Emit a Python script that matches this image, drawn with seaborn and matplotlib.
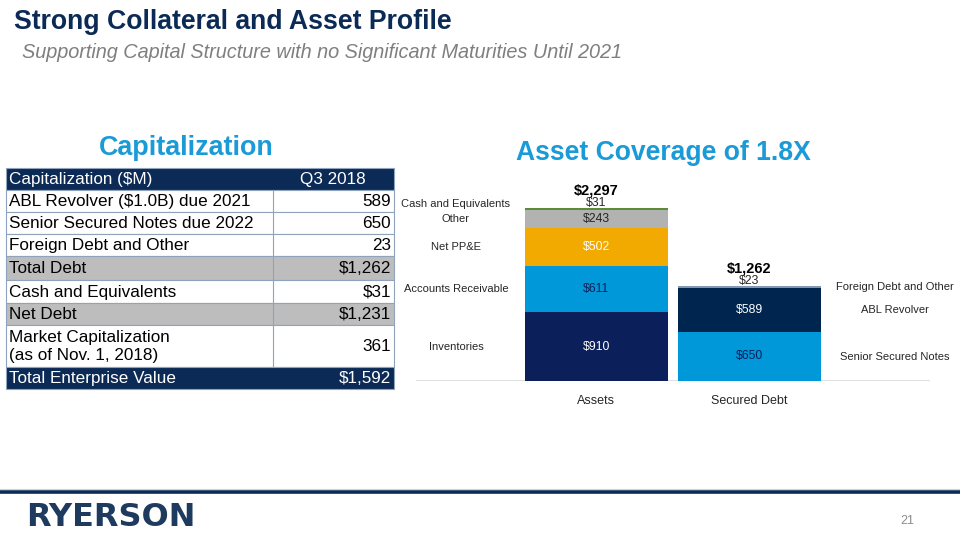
import matplotlib
matplotlib.use("Agg")
import matplotlib.pyplot as plt
from matplotlib.patches import Rectangle
from matplotlib import font_manager
import seaborn as sns

# ---------------- data ----------------
categories = ["Assets", "Secured Debt"]
asset_labels = ["Inventories", "Accounts Receivable", "Net PP&E", "Other", "Cash and Equivalents"]
asset_values = [910, 611, 502, 243, 31]
asset_colors = ["#0B1F5B", "#0098D8", "#F2A900", "#B2B2B2", "#5B8C3A"]
asset_text_colors = ["white", "#0B1F5B", "white", "#262626", "#262626"]

debt_labels = ["Senior Secured Notes", "ABL Revolver", "Foreign Debt and Other"]
debt_values = [650, 589, 23]
debt_colors = ["#0098D8", "#00264F", "#8497B0"]
debt_text_colors = ["#0B1F5B", "white", "#262626"]

totals = [2297, 1262]

table_labels = ["ABL Revolver ($1.0B) due 2021", "Senior Secured Notes due 2022",
                "Foreign Debt and Other", "Total Debt", "Cash and Equivalents", "Net Debt",
                "Market Capitalization\n(as of Nov. 1, 2018)", "Total Enterprise Value"]
table_values = ["589", "650", "23", "$1,262", "$31", "$1,231", "361", "$1,592"]
table_header = ["Capitalization ($M)", "Q3 2018"]

NAVY = "#0B2A55"
LBLUE = "#1A9AD6"

sns.set_theme(style="white")
names = {f.name for f in font_manager.fontManager.ttflist}
BASE = "Liberation Sans" if "Liberation Sans" in names else "DejaVu Sans"
NARROW = "Liberation Sans Narrow" if "Liberation Sans Narrow" in names else BASE
plt.rcParams["font.family"] = [BASE, "DejaVu Sans"]

fig = plt.figure(figsize=(9.6, 5.4), dpi=100)
fig.patch.set_facecolor("white")

# overlay in pixel coordinates for slide furniture
ov = fig.add_axes([0, 0, 1, 1])
ov.set_xlim(0, 960)
ov.set_ylim(540, 0)
ov.axis("off")

ov.text(14, 22, "Strong Collateral and Asset Profile", fontsize=19.2, fontweight="bold",
        color=NAVY, va="center", ha="left", family=[NARROW, BASE])
ov.text(22, 53, "Supporting Capital Structure with no Significant Maturities Until 2021",
        fontsize=14.3, style="italic", color="#7F7F7F", va="center", ha="left")
ov.text(186, 148, "Capitalization", fontsize=19.4, fontweight="bold", color=LBLUE,
        va="center", ha="center", family=[NARROW, BASE])
ov.text(663, 153, "Asset Coverage of 1.8X", fontsize=19.1, fontweight="bold", color=LBLUE,
        va="center", ha="center", family=[NARROW, BASE])

# ---- table ----
x0, xmid, x1 = 6, 273, 394
row_h = [22, 22, 22, 22, 24, 23, 22, 42, 22]
fills = [NAVY, "white", "white", "white", "#BDBDBD", "white", "#BDBDBD", "white", NAVY]
y = 168
rows = [table_header] + [[a, b] for a, b in zip(table_labels, table_values)]
for i, (h, fc, (lab, val)) in enumerate(zip(row_h, fills, rows)):
    ov.add_patch(Rectangle((x0, y), x1 - x0, h, facecolor=fc, edgecolor="#8FA3BC", lw=0.8))
    tc = "white" if fc == NAVY else "black"
    ov.text(x0 + 3, y + h / 2 + 0.5, lab, fontsize=12.3, color=tc, va="center", ha="left",
            linespacing=1.3)
    if i == 0:
        ov.text(333, y + h / 2 + 0.5, val, fontsize=12.3, color=tc, va="center", ha="center")
    else:
        ov.text(x1 - 3, y + h / 2 + 0.5, val, fontsize=12.3, color=tc, va="center", ha="right")
    y += h
ov.plot([xmid, xmid], [168 + row_h[0], y - row_h[-1]], color="#8FA3BC", lw=0.8)

# ---- footer ----
ov.plot([0, 960], [491.5, 491.5], color=NAVY, lw=2.6, solid_capstyle="butt")
ov.plot([0, 960], [489, 489], color="#C9D3DF", lw=0.8)
ov.text(26, 518, "RYERSON", fontsize=23, fontweight="bold", color="#1E3A5F",
        va="center", ha="left", family=["DejaVu Sans"])
ov.text(907, 521, "21", fontsize=9, color="#8C8C8C", va="center", ha="center")

# ---------------- chart ----------------
ax = fig.add_axes([416 / 960, (540 - 381) / 540, 514 / 960, 196 / 540])
ax.patch.set_alpha(0)
W = 0.935

def stack(cat, values, colors):
    bottom = 0
    mids = []
    for v, c in zip(values, colors):
        sns.barplot(x=[cat], y=[v], order=categories, bottom=bottom, color=c,
                    saturation=1, width=W, errorbar=None, ax=ax, linewidth=0)
        mids.append(bottom + v / 2)
        bottom += v
    return mids, bottom

a_mid, a_top = stack("Assets", asset_values, asset_colors)
d_mid, d_top = stack("Secured Debt", debt_values, debt_colors)

ax.set_xlim(-1.176, 2.18)
ax.set_ylim(0, 2600)
sns.despine(ax=ax, left=True, bottom=True, top=True, right=True)
ax.set_yticks([])
ax.set_xlabel("")
ax.set_ylabel("")
ax.tick_params(axis="x", length=0, pad=10, labelsize=9, labelcolor="#262626")
ax.axhline(0, color="#D9D9D9", lw=1.2, zorder=0)

# value labels inside segments
for v, m, tc in zip(asset_values, a_mid, asset_text_colors):
    yy = m if v > 100 else a_top + 60
    ax.text(0, yy, f"${v:,}", ha="center", va="center", fontsize=8.8, color=tc)
for v, m, tc in zip(debt_values, d_mid, debt_text_colors):
    yy = m if v > 100 else d_top + 60
    ax.text(1, yy, f"${v:,}", ha="center", va="center", fontsize=8.8, color=tc)

# totals
ax.text(0, a_top + 140, f"${totals[0]:,}", ha="center", va="bottom", fontsize=10.5,
        fontweight="bold", color="black", clip_on=False)
ax.text(1, d_top + 140, f"${totals[1]:,}", ha="center", va="bottom", fontsize=10.5,
        fontweight="bold", color="black", clip_on=False)

# segment names
for lab, m, v in zip(asset_labels, a_mid, asset_values):
    yy = m if v > 100 else m + 60
    ax.text(-0.915, yy, lab, ha="center", va="center", fontsize=8, color="#262626")
for lab, m, v in zip(debt_labels, d_mid, debt_values):
    ax.text(1.95, m, lab, ha="center", va="center", fontsize=8, color="#262626")

fig.savefig("out.png", dpi=100, facecolor="white")
